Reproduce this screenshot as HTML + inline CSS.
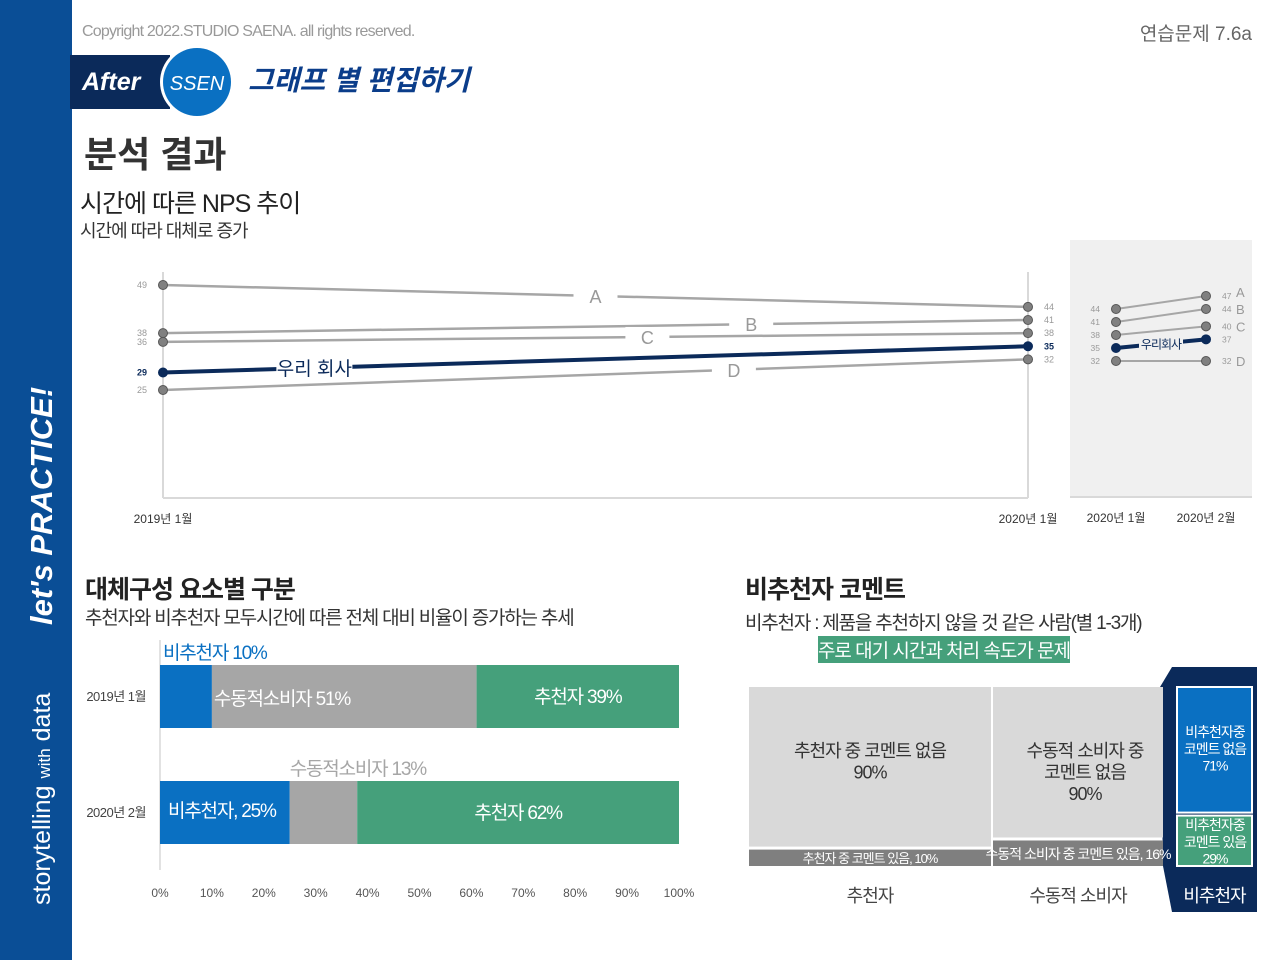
<!DOCTYPE html>
<html><head><meta charset="utf-8">
<style>
html,body{margin:0;padding:0;background:#fff;}
body{width:1280px;height:960px;overflow:hidden;position:relative;font-family:"Liberation Sans","Noto Sans CJK KR",sans-serif;}
svg text{font-family:"Liberation Sans","Noto Sans CJK KR",sans-serif;}
</style></head>
<body>
<svg id="page" width="1280" height="960" viewBox="0 0 1280 960">
  <rect x="0" y="0" width="72" height="960" fill="#0a4e96"/>
  <g transform="translate(50,905) rotate(-90)">
    <text x="0" y="0" font-size="25" fill="#fff" font-weight="300">storytelling <tspan font-size="17">with</tspan> data</text>
    <text x="280" y="2" font-size="31" fill="#fff" font-style="italic" font-weight="bold" font-family="'Liberation Serif',serif">let's PRACTICE!</text>
  </g>
  <text x="82" y="36" font-size="16" fill="#999" letter-spacing="-0.8">Copyright 2022.STUDIO SAENA. all rights reserved.</text>
  <text x="1252" y="40" font-size="19" fill="#666" text-anchor="end">연습문제 7.6a</text>
  <g>
    <rect x="70" y="55" width="100" height="54" fill="#0b2a5a"/>
    <text x="82" y="90" font-size="25" fill="#fff" font-style="italic" font-weight="bold" font-family="'Liberation Serif',serif">After</text>
    <circle cx="197" cy="82" r="37" fill="#fff"/>
    <circle cx="197" cy="82" r="34" fill="#0a70c2"/>
    <text x="197" y="90" font-size="20" fill="#fff" text-anchor="middle" font-style="italic">SSEN</text>
  </g>
  <text x="248" y="90" font-size="28" fill="#0b3d8a" font-weight="bold" font-style="italic">그래프 별 편집하기</text>
  <text x="84" y="167" font-size="36" fill="#333" font-weight="bold">분석 결과</text>
  <text x="80" y="212" font-size="25" fill="#222" letter-spacing="-1">시간에 따른 NPS 추이</text>
  <text x="80" y="237" font-size="18" fill="#333" letter-spacing="-1">시간에 따라 대체로 증가</text>

  <g id="slope"></g>
  <rect x="1070" y="240" width="182" height="258" fill="#f0f0f0"/>
  <g id="slope2"></g>

  <text x="85" y="598" font-size="25" fill="#222" font-weight="bold" letter-spacing="-1">대체구성 요소별 구분</text>
  <text x="85" y="624" font-size="19" fill="#333" letter-spacing="-1.2">추천자와 비추천자 모두시간에 따른 전체 대비 비율이 증가하는 추세</text>
  <g id="bars"></g>

  <text x="745" y="598" font-size="25" fill="#222" font-weight="bold" letter-spacing="-1">비추천자 코멘트</text>
  <text x="745" y="629" font-size="19" fill="#333" letter-spacing="-1.2">비추천자 : 제품을 추천하지 않을 것 같은 사람(별 1-3개)</text>
  <rect x="818" y="636" width="252" height="27" fill="#45a07b"/>
  <text x="944" y="657" font-size="19" fill="#fff" text-anchor="middle" letter-spacing="-1">주로 대기 시간과 처리 속도가 문제</text>
  <g id="mekko"></g>
</svg>
<script>
const NS="http://www.w3.org/2000/svg";
function mk(parent,tag,attrs,txt){const e=document.createElementNS(NS,tag);for(const k in attrs)e.setAttribute(k,attrs[k]);if(txt!==undefined)e.textContent=txt;parent.appendChild(e);return e;}

// ---------- slope chart data ----------
const slopeSeries=["A","B","C","D","우리 회사"];
const slopeStart=[49,38,36,25,29];
const slopeEnd=[44,41,38,32,35];
const slopePeriods=["2019년 1월","2020년 1월"];
const recentSeries=["A","B","C","D","우리회사"];
const recentStart=[44,41,38,32,35];
const recentEnd=[47,44,40,32,37];
const recentPeriods=["2020년 1월","2020년 2월"];

const sy=v=>285+(49-v)*4.375;
const sx=[163,1028];
const slopeG=document.getElementById('slope');
let a=mk(slopeG,'line',{x1:163,y1:272,x2:163,y2:498,stroke:'#d9d9d9','stroke-width':2});

a=mk(slopeG,'line',{x1:1028,y1:272,x2:1028,y2:498,stroke:'#d9d9d9','stroke-width':2});

a=mk(slopeG,'line',{x1:163,y1:498,x2:1028,y2:498,stroke:'#d9d9d9','stroke-width':2});

const labelPos=[[0.5,296],[0.68,320],[0.56,339],[0.66,370],[0.175,364]];
slopeSeries.forEach((s,i)=>{
  const us=i===4, col=us?'#0b2a5a':'#a6a6a6';
  const ln=mk(slopeG,'line',{x1:sx[0],y1:sy(slopeStart[i]),x2:sx[1],y2:sy(slopeEnd[i]),stroke:col,'stroke-width':us?4:2.5});
  
  
  const t=labelPos[i][0];
  const lx=sx[0]+(sx[1]-sx[0])*t, ly=sy(slopeStart[i])+(sy(slopeEnd[i])-sy(slopeStart[i]))*t;
  const w=us?76:44;
  mk(slopeG,'rect',{x:lx-w/2,y:ly-10,width:w,height:20,fill:'#fff'});
  const lt=mk(slopeG,'text',{x:lx,y:ly+7,'font-size':us?19:18,fill:us?'#0b2a5a':'#999','text-anchor':'middle'},s);
  
  
  [0,1].forEach(j=>{
    const v=j?slopeEnd[i]:slopeStart[i];
    const c=mk(slopeG,'circle',{cx:sx[j],cy:sy(v),r:4.5,fill:us?'#0b2a5a':'#808080',stroke:us?'#0b2a5a':'#555','stroke-width':1});
    
    
    const vt=mk(slopeG,'text',{x:j?sx[j]+16:sx[j]-16,y:sy(v)+3,'font-size':9,fill:us?'#0b2a5a':'#999','text-anchor':j?'start':'end','font-weight':us?'bold':'normal'},v);
    
    
  });
});
slopePeriods.forEach((p,j)=>{
  const t=mk(slopeG,'text',{x:sx[j],y:523,'font-size':12,fill:'#333','text-anchor':'middle'},p);
  
  
});

// recent panel
const ry=v=>309+(44-v)*4.333;
const rx=[1116,1206];
const g2=document.getElementById('slope2');
a=mk(g2,'line',{x1:1070,y1:497,x2:1252,y2:497,stroke:'#d9d9d9','stroke-width':2});

recentSeries.forEach((s,i)=>{
  const us=i===4, col=us?'#0b2a5a':'#a6a6a6';
  const ln=mk(g2,'line',{x1:rx[0],y1:ry(recentStart[i]),x2:rx[1],y2:ry(recentEnd[i]),stroke:col,'stroke-width':us?4:2});
  
  
  if(us){
    const mx=(rx[0]+rx[1])/2, my=(ry(recentStart[i])+ry(recentEnd[i]))/2;
    mk(g2,'rect',{x:mx-22,y:my-7,width:44,height:14,fill:'#f0f0f0'});
    const lt=mk(g2,'text',{x:mx,y:my+5,'font-size':12,fill:'#0b2a5a','text-anchor':'middle','letter-spacing':'-1'},s);
    
    
  } else {
    const lt=mk(g2,'text',{x:1236,y:ry(recentEnd[i])+5-(i===0?4:0),'font-size':13,fill:'#999'},s);
    
    
  }
  [0,1].forEach(j=>{
    const v=j?recentEnd[i]:recentStart[i];
    const c=mk(g2,'circle',{cx:rx[j],cy:ry(v),r:4.5,fill:us?'#0b2a5a':'#808080',stroke:us?'#0b2a5a':'#555','stroke-width':1});
    
    
    const vt=mk(g2,'text',{x:j?rx[j]+16:rx[j]-16,y:ry(v)+3,'font-size':8.5,fill:'#999','text-anchor':j?'start':'end'},v);
    
    
  });
});
recentPeriods.forEach((p,j)=>{
  const t=mk(g2,'text',{x:rx[j],y:522,'font-size':12,fill:'#333','text-anchor':'middle'},p);
  
  
});

// ---------- stacked bars ----------
const barCategories=["2019년 1월","2020년 2월"];
const detractors=[10,25];
const passives=[51,13];
const promoters=[39,62];
const xTicks=[0,10,20,30,40,50,60,70,80,90,100];
const bx=v=>160+v*5.19;
const barY=[665,781], barH=63;
const bg=document.getElementById('bars');
a=mk(bg,'line',{x1:160,y1:640,x2:160,y2:870,stroke:'#d9d9d9','stroke-width':1.5});

barCategories.forEach((c,i)=>{
  const y=barY[i];
  const segs=[[0,detractors[i],'#0a70c2','detractor'],[detractors[i],detractors[i]+passives[i],'#a6a6a6','passive'],[detractors[i]+passives[i],detractors[i]+passives[i]+promoters[i],'#45a07b','promoter']];
  segs.forEach(s=>{
    const r=mk(bg,'rect',{x:bx(s[0]),y:y,width:bx(s[1])-bx(s[0]),height:barH,fill:s[2]});
    
    
  });
  const ct=mk(bg,'text',{x:146,y:y+36,'font-size':13,fill:'#444','text-anchor':'end','letter-spacing':'-0.5'},c);
  
  
});
function bl(x,y,txt,col,anchor,name){const t=mk(bg,'text',{x:x,y:y,'font-size':19,fill:col,'text-anchor':anchor||'start','letter-spacing':'-1.2'},txt);}
bl(bx(0)+3,barY[0]-6,'비추천자 '+detractors[0]+'%','#0a70c2','start','label-detractor-2019');
bl(bx(detractors[0])+2,barY[0]+40,'수동적소비자 '+passives[0]+'%','#fff','start','label-passive-2019');
bl((bx(detractors[0]+passives[0])+bx(100))/2,barY[0]+38,'추천자 '+promoters[0]+'%','#fff','middle','label-promoter-2019');
bl(bx(detractors[1]),barY[1]-6,'수동적소비자 '+passives[1]+'%','#a6a6a6','start','label-passive-2020');
bl(bx(0)+8,barY[1]+36,'비추천자, '+detractors[1]+'%','#fff','start','label-detractor-2020');
bl((bx(detractors[1]+passives[1])+bx(100))/2,barY[1]+38,'추천자 '+promoters[1]+'%','#fff','middle','label-promoter-2020');
xTicks.forEach(v=>{
  const t=mk(bg,'text',{x:bx(v),y:897,'font-size':12,fill:'#555','text-anchor':'middle'},v+'%');
  
  
});

// ---------- mekko ----------
const groups=["추천자","수동적 소비자","비추천자"];
const noComment=[90,90,71];
const withComment=[10,16,29];
const mg=document.getElementById('mekko');
const mTop=687, mBot=866, mH=mBot-mTop;
const colX=[[749,991],[993,1163],[1177,1252]];
a=mk(mg,'polygon',{points:'1160,687 1172,667 1257,667 1257,912 1172,912 1163,866',fill:'#0b2a5a'});

groups.forEach((g,i)=>{
  const tot=noComment[i]+withComment[i];
  const yMid=mTop+mH*noComment[i]/tot;
  const x0=colX[i][0], w=colX[i][1]-colX[i][0];
  const hl=i===2;
  let r=mk(mg,'rect',{x:x0,y:mTop,width:w,height:yMid-mTop-1.5,fill:hl?'#0a70c2':'#d9d9d9',stroke:hl?'#fff':'none','stroke-width':hl?2:0});
  
  
  r=mk(mg,'rect',{x:x0,y:yMid+1.5,width:w,height:mBot-yMid-1.5,fill:hl?'#45a07b':'#7f7f7f',stroke:hl?'#fff':'none','stroke-width':hl?2:0});
  
  
  const cx=x0+w/2;
  const gl=mk(mg,'text',{x:cx,y:902,'font-size':18,fill:hl?'#fff':'#444','text-anchor':'middle','letter-spacing':'-1'},g);
  
  
});
function mt(x,y,lines,size,col,name){const t=mk(mg,'text',{x:x,y:y,'font-size':size,fill:col,'text-anchor':'middle','letter-spacing':'-1'});lines.forEach((l,k)=>{mk(t,'tspan',{x:x,dy:k?size*1.2:0},l);});}
mt(870,757,['추천자 중 코멘트 없음',noComment[0]+'%'],18,'#333','mekko-label-promoter-none');
mt(1085,757,['수동적 소비자 중','코멘트 없음',noComment[1]+'%'],18,'#333','mekko-label-passive-none');
mt(870,863,['추천자 중 코멘트 있음, '+withComment[0]+'%'],13,'#fff','mekko-label-promoter-with');
mt(1078,859,['수동적 소비자 중 코멘트 있음, '+withComment[1]+'%'],14,'#fff','mekko-label-passive-with');
mt(1215,737,['비추천자중','코멘트 없음',noComment[2]+'%'],14,'#fff','mekko-label-detractor-none');
mt(1215,830,['비추천자중','코멘트 있음',withComment[2]+'%'],14,'#fff','mekko-label-detractor-with');
</script>
</body></html>
